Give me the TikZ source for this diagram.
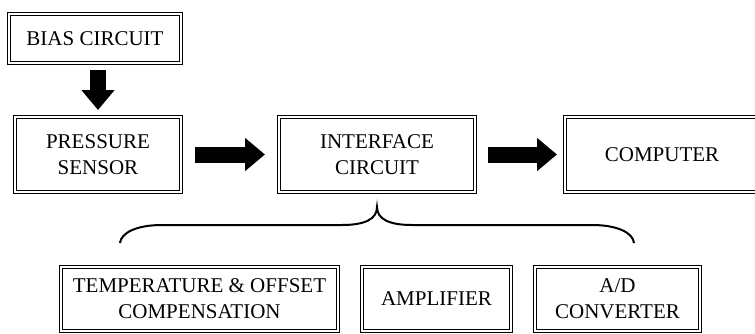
\documentclass[tikz,border=0pt]{standalone}
\usepackage{fontspec}
\setmainfont{Liberation Serif}
\usetikzlibrary{positioning, arrows.meta}

\begin{document}
\begin{tikzpicture}[x=1pt, y=-1pt, node distance=24pt,
  box/.style={draw, double, line width=1.2pt, double distance=1.6pt,
    inner sep=0pt, outer sep=0pt, align=center,
    font=\fontsize{21}{26}\selectfont},
  fat arrow/.style={line width=16pt, -{Triangle[length=20pt, width=32pt]}},
  brace line/.style={line width=2pt}]

\useasboundingbox (0,0) rectangle (755,333);

% top row
\node[box, minimum width=166pt, minimum height=75pt] (pressure) at (98,154.5) {PRESSURE\\SENSOR};
\node[box, minimum width=172pt, minimum height=49pt] (bias) [above=54pt of pressure, xshift=-3pt] {BIAS CIRCUIT};
\node[box, minimum width=196pt, minimum height=75pt] (interface) [right=98pt of pressure] {INTERFACE\\CIRCUIT};
\node[box, minimum width=194pt, minimum height=75pt] (computer) [right=90pt of interface] {COMPUTER};

% parts of the interface circuit
\node[box, minimum width=149pt, minimum height=64pt] (amp) [below=75pt of interface, xshift=59.5pt] {AMPLIFIER};
\node[box, minimum width=277pt, minimum height=64pt] (comp) [left=of amp] {TEMPERATURE \& OFFSET\\COMPENSATION};
\node[box, minimum width=165pt, minimum height=64pt] (adc) [right=of amp] {A/D\\CONVERTER};

\draw[fat arrow, shorten <=7pt, shorten >=7pt] (pressure.north |- bias.south) -- (pressure.north);
\draw[fat arrow, shorten <=14pt, shorten >=14pt] (pressure) -- (interface);
\draw[fat arrow, shorten <=13pt, shorten >=8pt] (interface) -- (computer);

% brace
\coordinate (tip) at ([yshift=-15pt]interface.south);
\draw[brace line] (120,243) .. controls (121,233) and (136,225) .. (162,225) -- (342,225)
  .. controls (365,225) and (377,219) .. (tip)
  .. controls (377,219) and (389,225) .. (412,225) -- (592,225)
  .. controls (618,225) and (633,233) .. (634,243);

\end{tikzpicture}
\end{document}
